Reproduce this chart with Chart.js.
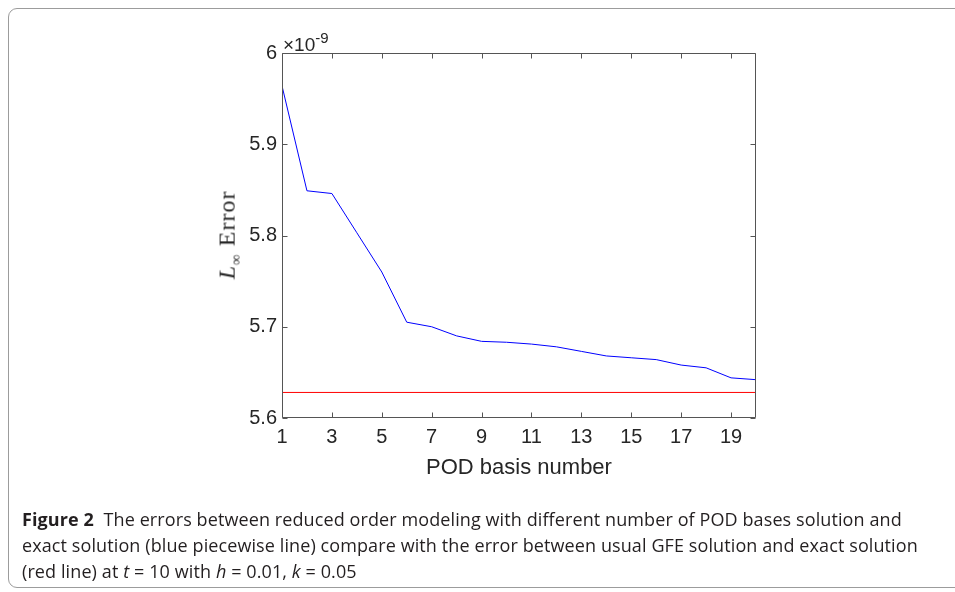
<!DOCTYPE html>
<html>
<head>
<meta charset="utf-8">
<script src="https://cdn.jsdelivr.net/npm/chart.js@4.4.0/dist/chart.umd.min.js"></script>
<style>
  body { margin: 0; background: #fff; }
  #wrap { position: relative; width: 955px; height: 592px; overflow: hidden; }
  #frame { position: absolute; left: 8px; top: 8px; width: 990px; height: 578px;
           border: 1px solid #9c9c9c; border-radius: 9px; }
  #myChart { position: absolute; left: 0; top: 0; }
  #expo { position: absolute; left: 283px; top: 30px; font: 19px "Liberation Sans", Arial, sans-serif; color: #262626; }
  #expo sup { font-size: 15px; position: relative; top: -1px; }
  #ylab { position: absolute; left: 229px; top: 235px; transform: translate(-50%, -50%) rotate(-90deg);
          font: 24px "Liberation Serif", "DejaVu Serif", serif; color: #262626; white-space: nowrap;
          letter-spacing: 1px; }
  #ylab sub { font-size: 15px; }
  .cap { position: absolute; left: 22px; font: 18px "Open Sans", sans-serif; color: #231f20;
         white-space: nowrap; letter-spacing: 0.1px; line-height: 26px; }
  .cap b { font-weight: 700; }
</style>
</head>
<body>
<div id="wrap">
  <div id="frame"></div>
  <canvas id="myChart" width="955" height="592"></canvas>
  <div id="expo">&times;10<sup>-9</sup></div>
  <div id="ylab"><i>L</i><sub>&infin;</sub> Error</div>
  <div class="cap" style="top:506px"><b>Figure 2</b>&nbsp; The errors between reduced order modeling with different number of POD bases solution and</div>
  <div class="cap" style="top:532px">exact solution (blue piecewise line) compare with the error between usual GFE solution and exact solution</div>
  <div class="cap" style="top:558px">(red line) at <i>t</i> = 10 with <i>h</i> = 0.01, <i>k</i> = 0.05</div>
</div>
<script>
// numero de bases POD (eixo x)
var podNumber = [1, 2, 3, 4, 5, 6, 7, 8, 9, 10, 11, 12, 13, 14, 15, 16, 17, 18, 19, 20];
// erro L infinito do modelo reduzido (x 1e-9)
var romError = [5.964, 5.849, 5.846, 5.803, 5.760, 5.705, 5.700, 5.690, 5.684, 5.683,
                5.681, 5.678, 5.673, 5.668, 5.666, 5.664, 5.658, 5.655, 5.644, 5.642];
// erro da solucao GFE usual (x 1e-9)
var gfeError = 5.628;

var xTicks = [1, 3, 5, 7, 9, 11, 13, 15, 17, 19];
var yTicks = [5.6, 5.7, 5.8, 5.9, 6];
var yTickLabels = ['5.6', '5.7', '5.8', '5.9', '6'];

// caixa do eixo com marcas para dentro (estilo MATLAB)
const caixaEixo = {
    id: 'caixaEixo',
    afterDatasetsDraw(chart) {
        const ctx = chart.ctx;
        const a = chart.chartArea;
        const sx = chart.scales.x, sy = chart.scales.y;
        const L = Math.round(a.left) + 0.5, R = Math.round(a.right) - 0.5;
        const T = Math.round(a.top) + 0.5, B = Math.round(a.bottom) - 0.5;
        ctx.save();
        ctx.strokeStyle = '#555555';
        ctx.lineWidth = 1;
        ctx.beginPath();
        ctx.rect(L, T, R - L, B - T);
        sx.ticks.forEach(function (t) {
            var px = Math.round(sx.getPixelForValue(t.value)) + 0.5;
            ctx.moveTo(px, B); ctx.lineTo(px, B - 5);
            ctx.moveTo(px, T); ctx.lineTo(px, T + 5);
        });
        sy.ticks.forEach(function (t) {
            var py = Math.round(sy.getPixelForValue(t.value)) + 0.5;
            ctx.moveTo(L, py); ctx.lineTo(L + 5, py);
            ctx.moveTo(R, py); ctx.lineTo(R - 5, py);
        });
        ctx.stroke();
        ctx.restore();
    }
};

const ctx = document.getElementById('myChart');

new Chart(ctx, {
    type: 'line',
    data: {
        datasets: [{
            label: 'ROM',
            data: podNumber.map(function (n, i) { return { x: n, y: romError[i] }; }),
            borderColor: '#0000ff',
            borderWidth: 1,
            pointRadius: 0,
            tension: 0
        }, {
            label: 'GFE',
            data: [{ x: podNumber[0], y: gfeError }, { x: podNumber[podNumber.length - 1], y: gfeError }],
            borderColor: '#ff0000',
            borderWidth: 1,
            pointRadius: 0
        }]
    },
    options: {
        responsive: false,
        animation: false,
        layout: { padding: { left: 0, top: 53, right: 199, bottom: 111 } },
        plugins: {
            legend: { display: false },
            tooltip: { enabled: false }
        },
        scales: {
            x: {
                type: 'linear',
                min: 1,
                max: 20,
                grid: { display: false, drawTicks: false },
                border: { display: false },
                afterBuildTicks: function (axis) {
                    axis.ticks = xTicks.map(function (v) { return { value: v }; });
                },
                afterFit: function (axis) { axis.height = 63; },
                ticks: {
                    padding: 7,
                    maxRotation: 0,
                    autoSkip: false,
                    color: '#262626',
                    font: { family: 'Liberation Sans', size: 20 },
                    callback: function (v) { return String(v); }
                },
                title: {
                    display: true,
                    text: 'POD basis number',
                    color: '#262626',
                    font: { family: 'Liberation Sans', size: 22 },
                    padding: { top: 4, bottom: 0 }
                }
            },
            y: {
                min: 5.6,
                max: 6,
                grid: { display: false, drawTicks: false },
                border: { display: false },
                afterBuildTicks: function (axis) {
                    axis.ticks = yTicks.map(function (v) { return { value: v }; });
                },
                afterFit: function (axis) { axis.width = 282; },
                ticks: {
                    padding: 5,
                    autoSkip: false,
                    color: '#262626',
                    font: { family: 'Liberation Sans', size: 20 },
                    callback: function (v, i) { return yTickLabels[i]; }
                }
            }
        }
    },
    plugins: [caixaEixo]
});
</script>
</body>
</html>
